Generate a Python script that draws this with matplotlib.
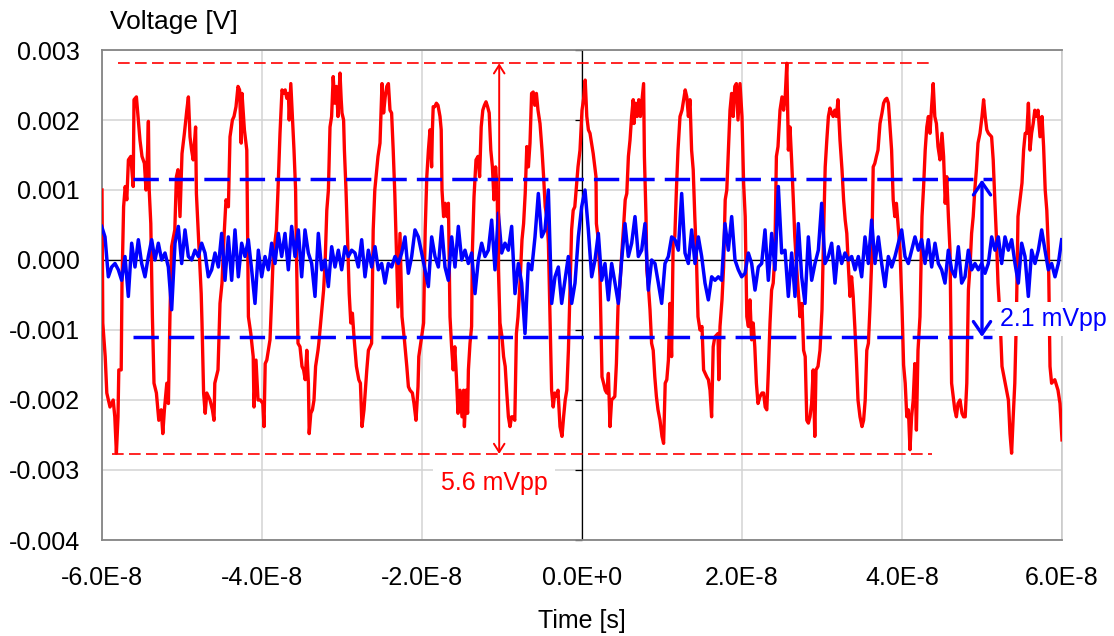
import numpy as np
import matplotlib
matplotlib.use("Agg")
import matplotlib.pyplot as plt
from matplotlib.markers import TICKLEFT

plt.rcParams['font.family'] = ['Liberation Sans', 'DejaVu Sans']

# ---------------- data (time in ns, voltage in mV) ----------------
red_points = [
    (-60.0, 1.0), (-59.9, -0.9), (-59.6, -1.38), (-59.4, -1.9), (-59.0, -2.1), (-58.6, -2.0), (-58.4, -2.24),
    (-58.2, -2.76), (-58.0, -2.24), (-57.9, -1.57), (-57.6, -1.57), (-57.5, -0.33), (-57.3, 0.76), (-57.1, 1.05),
    (-56.9, 0.86), (-56.7, 1.43), (-56.4, 1.48), (-56.1, 1.05), (-56.0, 2.29), (-55.7, 2.33), (-55.5, 2.05),
    (-55.25, 1.71), (-55.0, 1.48), (-54.7, 1.38), (-54.5, 1.0), (-54.3, 1.57), (-54.2, 1.98), (-54.1, 1.0),
    (-53.9, 0.52), (-53.7, -0.81), (-53.5, -1.76), (-53.2, -1.9), (-52.9, -2.29), (-52.6, -2.14), (-52.4, -2.48),
    (-52.2, -2.14), (-51.9, -1.76), (-51.7, -2.05), (-51.5, -0.76), (-51.3, 0.19), (-50.9, 0.43), (-50.7, 1.19),
    (-50.5, 1.29), (-50.25, 0.62), (-50.0, 1.52), (-49.7, 1.81), (-49.4, 2.14), (-49.2, 2.33), (-49.0, 1.76),
    (-48.8, 1.57), (-48.6, 1.43), (-48.3, 1.9), (-48.2, 0.95), (-47.9, 0.24), (-47.6, -0.48), (-47.5, -0.9),
    (-47.3, -1.9), (-47.1, -2.19), (-46.9, -1.9), (-46.5, -2.0), (-46.2, -2.14), (-46.0, -2.29), (-45.9, -1.76),
    (-45.5, -1.57), (-45.25, -0.62), (-45.0, -0.33), (-44.75, 0.33), (-44.5, 0.86), (-44.2, 0.76), (-44.0, 1.76),
    (-43.7, 2.0), (-43.5, 2.05), (-43.25, 2.19), (-43.0, 2.48), (-42.8, 2.43), (-42.6, 1.67), (-42.5, 2.38),
    (-42.2, 1.86), (-41.9, 1.57), (-41.7, -0.81), (-41.4, -1.05), (-41.1, -1.38), (-41.0, -2.1), (-40.75, -1.43),
    (-40.5, -2.0), (-40.2, -2.0), (-39.9, -2.05), (-39.75, -2.38),
    (-39.6, -1.48), (-39.4, -1.43), (-39.0, -1.14), (-38.8, -0.57), (-38.6, 0.05), (-38.2, 0.43), (-38.0, 1.0),
    (-37.75, 1.81), (-37.5, 2.43), (-37.3, 2.38), (-37.1, 2.43), (-36.9, 2.31), (-36.7, 2.38), (-36.6, 2.0),
    (-36.4, 2.52), (-36.2, 2.05), (-36.0, 1.57), (-35.8, 1.0), (-35.7, 0.14), (-35.5, -1.19), (-35.25, -1.24),
    (-35.0, -1.52), (-34.8, -1.57), (-34.6, -1.71), (-34.4, -1.29), (-34.2, -1.76), (-34.1, -2.48), (-33.9, -2.19),
    (-33.7, -2.14), (-33.5, -2.0), (-33.3, -1.52), (-33.0, -1.29), (-32.9, -1.19), (-32.6, -0.81), (-32.3, -0.43),
    (-32.1, 0.0), (-31.9, 0.71), (-31.7, 1.0), (-31.5, 1.9), (-31.3, 2.05), (-31.1, 2.62), (-30.9, 2.24),
    (-30.7, 2.48), (-30.5, 2.05), (-30.25, 2.67), (-30.1, 2.29), (-30.0, 2.1), (-29.8, 2.0), (-29.7, 1.57),
    (-29.5, 1.0), (-29.3, 0.29), (-29.1, -0.48), (-28.9, -0.9), (-28.7, -0.76), (-28.5, -1.1), (-28.2, -1.52),
    (-27.9, -1.71), (-27.7, -1.76), (-27.5, -2.38), (-27.25, -2.14), (-26.9, -1.57), (-26.7, -1.29), (-26.3, -1.19),
    (-26.1, 0.43), (-25.9, 1.0), (-25.5, 1.48), (-25.25, 1.67), (-25.0, 2.52), (-24.8, 2.1), (-24.6, 2.33),
    (-24.4, 2.48), (-24.2, 2.52), (-24.0, 2.14), (-23.8, 2.1), (-23.6, 1.57), (-23.4, 0.95), (-23.0, -0.67),
    (-22.75, 0.38), (-22.5, -0.81), (-22.2, -1.14), (-21.9, -1.52), (-21.7, -1.81), (-21.5, -1.86), (-21.2, -1.9),
    (-21.0, -2.05), (-20.75, -2.29), (-20.5, -1.81), (-20.4, -1.38), (-20.1, -1.14), (-19.8, -0.9),
    (-19.6, 0.43), (-19.4, 1.19), (-19.2, 1.57), (-19.0, 1.86), (-18.8, 1.33), (-18.7, 1.86), (-18.6, 2.19),
    (-18.4, 2.19), (-18.2, 2.24), (-18.0, 2.21), (-17.75, 2.05), (-17.6, 1.86), (-17.5, 1.0), (-17.3, 0.62),
    (-17.1, 0.81), (-16.9, 0.62), (-16.7, 0.81), (-16.5, -0.81), (-16.3, -1.24), (-16.1, -1.57), (-15.9, -1.24),
    (-15.7, -1.67), (-15.5, -2.19), (-15.25, -1.86), (-15.0, -2.24), (-14.8, -1.86), (-14.7, -2.38), (-14.5, -1.86),
    (-14.3, -2.19), (-14.2, -1.57), (-14.0, -1.19), (-13.8, -0.95), (-13.7, 0.14), (-13.5, 0.9), (-13.25, 1.43),
    (-13.0, 1.48), (-12.8, 1.19), (-12.6, 1.9), (-12.4, 2.14), (-12.2, 2.21), (-12.0, 2.26), (-11.8, 2.19),
    (-11.6, 2.1), (-11.4, 1.57), (-11.2, 1.33), (-11.1, 1.1), (-11.0, 0.86), (-10.8, 1.33), (-10.6, 1.0),
    (-10.5, 0.05), (-10.25, -0.9), (-10.0, -1.1), (-9.8, -1.38), (-9.6, -1.52), (-9.4, -1.9), (-9.2, -2.24),
    (-9.0, -2.38), (-8.8, -2.24), (-8.6, -2.24), (-8.4, -2.29), (-8.2, -1.05), (-8.0, -0.81), (-7.75, -0.33),
    (-7.5, 0.29), (-7.3, 0.52), (-7.1, 0.95), (-6.9, 1.62), (-6.7, 1.33), (-6.5, 1.67), (-6.3, 2.38), (-6.1, 2.4),
    (-5.9, 2.21), (-5.7, 2.38), (-5.5, 2.14), (-5.25, 1.95), (-5.0, 1.57), (-4.8, 1.19), (-4.6, 0.76), (-4.4, 0.62),
    (-4.2, 0.24), (-4.0, -0.81), (-3.8, -1.86), (-3.6, -2.1), (-3.4, -1.9), (-3.2, -1.95), (-3.0, -1.86),
    (-2.75, -2.38), (-2.5, -2.52), (-2.3, -2.24), (-2.1, -2.0), (-1.9, -1.86), (-1.7, -1.29), (-1.5, -0.43),
    (-1.3, 0.43), (-1.1, 0.71), (-0.9, 0.76), (-0.7, 1.05), (-0.5, 1.33), (-0.25, 1.57), (0.0, 2.14),
    (0.2, 2.3), (0.4, 2.57), (0.6, 2.05), (0.8, 1.86), (1.0, 1.81), (1.4, 1.52), (1.75, 1.19), (1.8, 0.52),
    (2.0, 0.33), (2.25, -0.24), (2.5, -1.67), (2.7, -1.76), (2.9, -1.86), (3.1, -1.9), (3.3, -1.62), (3.5, -2.38),
    (3.7, -2.0), (4.1, -1.95), (4.3, -1.48), (4.5, -0.67), (4.75, -0.33), (5.0, 0.14), (5.2, 0.48), (5.4, 0.86),
    (5.6, 0.95), (5.8, 1.48), (6.0, 1.71), (6.2, 2.05), (6.4, 2.29), (6.5, 1.95), (6.7, 2.24), (6.9, 2.05),
    (7.1, 2.29), (7.3, 2.05), (7.7, 2.52), (7.8, 1.48), (8.0, 0.62), (8.1, -0.14), (8.3, -0.38), (8.5, -0.71),
    (8.7, -1.19), (8.9, -1.29), (9.1, -1.67), (9.3, -1.95), (9.5, -2.14), (9.75, -2.29), (10.0, -2.52),
    (10.2, -2.62), (10.4, -1.76), (10.6, -1.71), (10.8, -1.43), (11.0, -0.62), (11.2, -1.38), (11.4, 0.29),
    (11.6, 0.33), (11.8, 1.0), (12.0, 1.57), (12.25, 2.05), (12.5, 2.14), (12.7, 2.29), (12.9, 2.43), (13.1, 2.33),
    (13.3, 2.05), (13.5, 2.29), (13.7, 1.57), (13.9, 1.29), (14.1, 0.62), (14.3, 0.05), (14.5, -0.81),
    (14.75, -1.0), (15.0, -0.95), (15.2, -1.57), (15.4, -1.62), (15.6, -1.67), (15.8, -1.71), (16.0, -1.86),
    (16.2, -2.24), (16.4, -1.24), (16.6, -1.1), (17.0, -1.05), (17.1, -1.71), (17.25, -0.95), (17.5, -0.57),
    (17.7, -0.1), (17.9, 0.86), (18.1, 1.0), (18.3, 1.57), (18.5, 2.14), (18.7, 2.38), (18.9, 2.05), (19.1, 2.48),
    (19.3, 2.52), (19.5, 2.0), (19.75, 2.52), (20.0, 2.05),
    (20.2, 1.1), (20.4, 0.62), (20.6, -0.81), (20.8, -0.95), (21.0, -0.57), (21.2, -1.14), (21.4, -0.9),
    (21.6, -1.24), (21.8, -1.76), (22.0, -2.05), (22.25, -1.95), (22.5, -1.9), (22.7, -1.9), (22.9, -2.1),
    (23.1, -2.14), (23.3, -1.57), (23.5, -0.9), (23.7, -0.43), (23.9, -0.33), (24.1, 0.05), (24.3, 1.48),
    (24.5, 1.62), (24.75, 2.14), (25.0, 2.33), (25.2, 2.14), (25.4, 2.33), (25.6, 2.81), (25.8, 1.57), (26.0, 1.9),
    (26.2, 1.43), (26.4, 0.9), (26.6, 0.33), (26.8, -0.05), (27.0, -0.38), (27.25, -0.81), (27.5, -0.62),
    (27.7, -1.29), (27.9, -1.38), (28.1, -2.29), (28.3, -2.33), (28.5, -2.24), (28.7, -2.05), (28.9, -1.57),
    (29.1, -2.52), (29.25, -1.57), (29.5, -1.52), (29.75, -1.29), (30.0, -0.71), (30.2, 0.38), (30.4, 1.33),
    (30.6, 1.71), (30.8, 2.05), (31.0, 2.17), (31.2, 2.1), (31.4, 2.05), (31.6, 2.14), (31.8, 2.05), (32.0, 2.29),
    (32.25, 1.71), (32.5, 1.29), (32.7, 0.86), (32.9, 0.57), (33.1, 0.38), (33.3, -0.1), (33.5, -0.52),
    (33.7, -0.24), (33.9, -0.52), (34.1, -0.95), (34.3, -1.43), (34.5, -2.0), (34.75, -2.24), (35.0, -2.38),
    (35.2, -2.29), (35.4, -2.0), (35.6, -1.29), (35.8, -1.19), (36.0, -0.67), (36.2, -0.05), (36.4, 1.33),
    (36.6, 1.38), (36.8, 1.48), (37.0, 1.57), (37.25, 1.95), (37.5, 2.1), (37.7, 2.24), (37.9, 2.29), (38.1, 2.31),
    (38.3, 2.24), (38.5, 1.9), (38.7, 1.57), (38.9, 0.86), (39.1, 0.62), (39.3, 0.81), (39.5, 0.52), (39.75, 0.14),
    (40.0, -0.67),
    (40.2, -1.5), (40.4, -1.76), (40.6, -2.24), (40.8, -2.14), (41.0, -2.71), (41.2, -2.24), (41.4, -2.0),
    (41.6, -1.48), (41.8, -2.43), (42.0, -1.29), (42.25, -0.81), (42.5, 0.62), (42.7, 1.05), (42.9, 1.57),
    (43.1, 1.9), (43.3, 2.05), (43.5, 1.81), (43.7, 2.19), (43.9, 2.52), (44.1, 2.05), (44.3, 1.95), (44.5, 1.62),
    (44.75, 1.43), (45.0, 1.81), (45.2, 1.48), (45.4, 0.81), (45.6, 1.19), (45.8, 0.62), (46.0, 0.14),
    (46.2, -1.76), (46.4, -1.95), (46.6, -2.14), (46.8, -2.24), (47.0, -2.05), (47.25, -2.0), (47.5, -2.19),
    (47.7, -2.24), (47.9, -2.24), (48.1, -1.76), (48.3, -0.43), (48.5, -0.1), (48.7, 0.38), (48.9, 0.62),
    (49.1, 1.0), (49.3, 1.29), (49.5, 1.67), (49.75, 1.81), (50.0, 2.05), (50.2, 2.29), (50.4, 2.05), (50.6, 1.86),
    (50.8, 1.81), (51.2, 1.76), (51.4, 1.43), (51.6, 0.86), (51.8, 0.33), (52.0, -0.33), (52.25, -0.81),
    (52.5, -1.52), (52.9, -1.76), (53.3, -2.0), (53.5, -2.48), (53.7, -2.76), (53.9, -2.24), (54.1, -1.76),
    (54.3, -0.81), (54.5, 0.62), (54.75, 0.86), (55.0, 1.1), (55.2, 1.57), (55.4, 1.81), (55.6, 1.81), (55.8, 2.24),
    (56.0, 1.57), (56.2, 1.81), (56.4, 1.95), (56.6, 2.14), (56.8, 2.05), (57.0, 2.14), (57.25, 1.76), (57.5, 2.05),
    (57.7, 1.62), (57.9, 1.0), (58.1, 0.71), (58.3, 0.14), (58.5, -1.52), (58.7, -1.76), (59.1, -1.71),
    (59.5, -1.86), (59.75, -2.05), (60.0, -2.57),
]

# blue trace: sampled every 10/24 ns starting at -60.04 ns
blue_t0_ns = -60.0417
blue_dt_ns = 10.0 / 24.0
blue_v_mv = [
    0.48, 0.33, -0.24, -0.10, -0.05, -0.14, -0.29, 0.05, -0.52, 0.24, -0.10, 0.29, -0.05, -0.24, 0.05, 0.29,
    0.0, 0.24, 0.0, 0.10, -0.10, -0.71, 0.24, 0.48, -0.05, 0.43, 0.05, 0.0, 0.14, 0.05, 0.24, 0.10, -0.24,
    -0.14, 0.10, -0.10, 0.38, -0.29, 0.33, -0.29, 0.43, -0.24, 0.24, 0.05, 0.29, -0.14,
    -0.62, 0.14, -0.24, 0.05, -0.14, 0.24, -0.05, 0.38, 0.05, 0.38, -0.14, 0.48, 0.05, 0.43, -0.24, 0.43,
    0.10, -0.05, -0.52, 0.38, -0.14, 0.0, -0.38, 0.19, -0.10, 0.14, -0.14, 0.19, 0.05, 0.14, 0.10, -0.10,
    0.29, -0.24, 0.14, -0.10, 0.19, -0.14, -0.05, -0.33, -0.05, -0.10, 0.05, -0.05, 0.10, 0.33, -0.19, 0.05,
    0.43, 0.33, 0.10, -0.14, -0.38, 0.33, 0.05, -0.10, 0.48, -0.10, -0.29, 0.33, -0.10, 0.48, 0.0, 0.14,
    -0.05, 0.10, -0.48, 0.0, 0.24, 0.05, 0.14, 0.57, -0.14, 0.67, 0.10, 0.24, 0.14, 0.48, -0.48, -0.05,
    -0.33, -1.05, -0.05, -0.14, 0.33, 0.95, 0.33, 0.43, 1.0, -0.62, -0.24, -0.10, -0.62, -0.29, 0.05, -0.62,
    -0.33, 0.33, 0.76, 1.0, 0.43, -0.24, 0.0, 0.38, -0.29, -0.05, -0.57, -0.05, -0.33, -0.62, 0.0, 0.52,
    0.05, 0.24, 0.62, 0.05, 0.14, 0.52, -0.43, 0.0, -0.05, -0.33, -0.62, -0.05, 0.05, 0.33, 0.29, 0.14,
    0.95, 0.10, -0.05, 0.43, -0.05, 0.33, 0.05, -0.33, -0.57, -0.24, -0.29, -0.24, -0.29, 0.52, 0.14, 0.62,
    0.0, -0.14, -0.24, -0.19, 0.10, -0.05, -0.43, -0.10, -0.05, 0.43, -0.29, 0.38, -0.14, 1.05, 0.10, 0.14,
    -0.52, 0.10, -0.52, 0.52, -0.24, -0.62, 0.33, -0.29, -0.05, 0.14, 0.81, -0.05, 0.05, 0.24, -0.33, 0.19,
    -0.05, 0.10, 0.0, 0.05, -0.14, 0.05, -0.24, 0.33, -0.05, 0.57, -0.05, 0.33, -0.05, -0.38, 0.05, -0.10,
    0.05, 0.24, 0.43, 0.05, -0.05, 0.14, 0.33, 0.14, 0.29, -0.05, 0.29, -0.10, 0.24, -0.05, -0.14, -0.33,
    0.14, -0.14, -0.24, 0.19, -0.33, -0.24, 0.14, -0.14, -0.05, -0.14, -0.05, -0.19, -0.05, 0.33, 0.14, 0.33,
    -0.05, 0.33, 0.14, 0.29, -0.05, -0.33, 0.24, 0.05, -0.52, 0.14, -0.05, 0.14, 0.43, 0.14, -0.14, -0.05,
    -0.24, -0.05, 0.29,
]

# peak-to-peak markers
red_pp_top_mv = 2.81
red_pp_bottom_mv = -2.77
red_top_span_ns = (-58.0, 43.5)
red_bottom_span_ns = (-58.75, 43.75)
red_arrow_t_ns = -10.35
red_label = "5.6 mVpp"

blue_pp_top_mv = 1.15
blue_pp_bottom_mv = -1.10
blue_span_ns = (-56.1, 51.25)
blue_arrow_t_ns = 50.0
blue_label = "2.1 mVpp"

x_ticks = [-6e-8, -4e-8, -2e-8, 0.0, 2e-8, 4e-8, 6e-8]
x_tick_labels = ["-6.0E-8", "-4.0E-8", "-2.0E-8", "0.0E+0", "2.0E-8", "4.0E-8", "6.0E-8"]
y_ticks = [0.003, 0.002, 0.001, 0.0, -0.001, -0.002, -0.003, -0.004]
y_tick_labels = ["0.003", "0.002", "0.001", "0.000", "-0.001", "-0.002", "-0.003", "-0.004"]

# ---------------- figure ----------------
NS = 1e-9
MV = 1e-3
FS = 18

fig = plt.figure(figsize=(11.14, 6.36), dpi=100)
ax = fig.add_axes([102 / 1114, 96 / 636, 960 / 1114, 490 / 636])
ax.set_xlim(-6e-8, 6e-8)
ax.set_ylim(-0.004, 0.003)

ax.set_xticks(x_ticks)
ax.set_xticklabels(x_tick_labels, fontsize=FS)
ax.set_yticks(y_ticks)
ax.set_yticklabels(y_tick_labels, fontsize=FS)
ax.tick_params(axis='x', length=0, pad=19)
ax.tick_params(axis='y', length=0, pad=16)
ax.grid(True, color='#d3d3d3', lw=1.1, zorder=0)
ax.set_axisbelow(True)
for side in ['left', 'top', 'bottom']:
    ax.spines[side].set_color('#858585')
    ax.spines[side].set_linewidth(1.3)
ax.spines['right'].set_color('#c8c8c8')
ax.spines['right'].set_linewidth(1.1)

# zero axes (black) with small ticks on the vertical one
ax.axhline(0, color='black', lw=0.9, zorder=1)
ax.axvline(0, color='black', lw=0.9, zorder=1)
ax.plot([0.0] * len(y_ticks), y_ticks, linestyle='none', marker=TICKLEFT,
        markersize=5, markeredgewidth=0.9, color='black', zorder=1, clip_on=False)

red_t = np.array([p[0] for p in red_points]) * NS
red_v = np.array([p[1] for p in red_points]) * MV
blue_v = np.array(blue_v_mv) * MV
blue_t = (blue_t0_ns + np.arange(len(blue_v_mv)) * blue_dt_ns) * NS

# red peak lines
ax.plot(np.array(red_top_span_ns) * NS, [red_pp_top_mv * MV] * 2, color='red', lw=1.2,
        dashes=(7, 3.2), zorder=2)
ax.plot(np.array(red_bottom_span_ns) * NS, [red_pp_bottom_mv * MV] * 2, color='red', lw=1.2,
        dashes=(7, 3.2), zorder=2)

ax.plot(red_t, red_v, color='#ff0000', lw=2.4, zorder=3, solid_joinstyle='round')
ax.plot(blue_t, blue_v, color='#0000ff', lw=2.5, zorder=4, solid_joinstyle='round')

# blue peak lines
for lev in (blue_pp_top_mv, blue_pp_bottom_mv):
    ax.plot(np.array(blue_span_ns) * NS, [lev * MV] * 2, color='#0000ff', lw=2.5,
            dashes=(7.3, 2.9), zorder=5)

# arrows
ax.annotate('', xy=(red_arrow_t_ns * NS, red_pp_bottom_mv * MV),
            xytext=(red_arrow_t_ns * NS, red_pp_top_mv * MV),
            arrowprops=dict(arrowstyle='<->,head_length=0.6,head_width=0.38', color='red',
                            lw=1.4, shrinkA=0, shrinkB=0, mutation_scale=10), zorder=6)
ax.annotate('', xy=(blue_arrow_t_ns * NS, blue_pp_bottom_mv * MV),
            xytext=(blue_arrow_t_ns * NS, blue_pp_top_mv * MV),
            arrowprops=dict(arrowstyle='<->,head_length=0.9,head_width=0.62', color='#0000ff',
                            lw=2.4, shrinkA=0, shrinkB=0, mutation_scale=10), zorder=6)

ax.text(-11.0 * NS, -3.19 * MV, red_label, color='red', fontsize=FS, ha='center', va='center',
        bbox=dict(boxstyle='square,pad=0.3', fc='white', ec='none'), zorder=7)
ax.text(52.3 * NS, -0.84 * MV, blue_label, color='#0000ff', fontsize=FS, ha='left', va='center',
        bbox=dict(boxstyle='square,pad=0.2', fc='white', ec='none'), zorder=7, clip_on=False)

fig.text(110 / 1114, 1 - 22 / 636, "Voltage [V]", fontsize=19, ha='left', va='center')
fig.text(582 / 1114, 1 - 621 / 636, "Time [s]", fontsize=FS, ha='center', va='center')

fig.savefig("out.png", dpi=100)
